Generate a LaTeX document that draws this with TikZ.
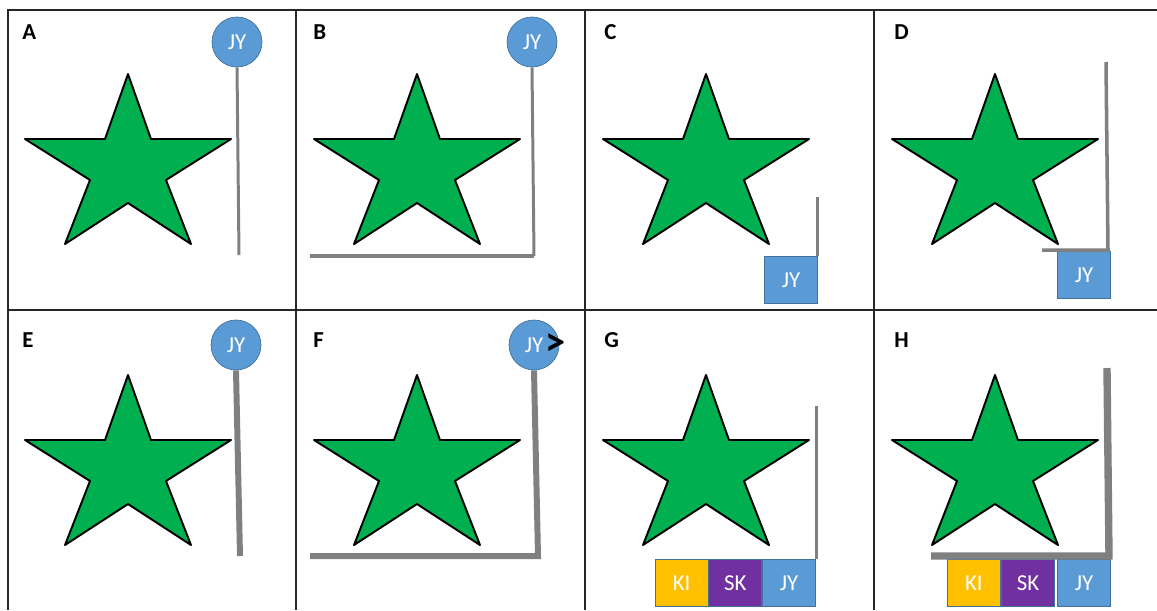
\documentclass[tikz,border=0pt]{standalone}
\usepackage{fontspec}
\setmainfont{Carlito}
\usepackage{xcolor}
\usetikzlibrary{positioning}

\definecolor{starGreen}{HTML}{00B050}
\definecolor{tagBlue}{HTML}{5B9BD5}
\definecolor{tagEdge}{HTML}{41719C}
\definecolor{tagGold}{HTML}{FFC000}
\definecolor{tagPurple}{HTML}{7030A0}
\definecolor{poleGray}{HTML}{808080}

\begin{document}
\begin{tikzpicture}[
  x=0.02cm, y=-0.02cm,
  grid/.style={draw=black!85, line width=0.9pt},
  panel/.style={font=\bfseries\fontsize{13}{15}\selectfont, anchor=base west, inner sep=0pt},
  pin/.style={circle, draw=tagEdge, line width=0.4pt, fill=tagBlue, text=white,
              font=\fontsize{13}{15}\selectfont, inner sep=0pt, minimum size=1cm},
  tag/.style={draw=tagEdge, line width=0.4pt, fill=tagBlue, text=white,
              font=\fontsize{13}{15}\selectfont, inner sep=0pt,
              minimum width=1.07cm, minimum height=0.93cm},
  pole/.style={draw=poleGray, line width=1.7pt, line join=miter},
  arrowmark/.style={font=\bfseries\fontsize{23}{23}\selectfont, inner sep=0pt},
  greenstar/.pic={
    \draw[fill=starGreen, line width=1.1pt, line join=round]
      (0,0) -- (23,65) -- (103,65) -- (38,106) -- (63,170) -- (0,129)
      -- (-63,170) -- (-38,106) -- (-103,65) -- (-23,65) -- cycle;}]

  \useasboundingbox (0,0) rectangle (1157,610);

  \draw[grid] (1157,10) -- (8,10) -- (8,610);
  \draw[grid] (8,310) -- (1157,310);
  \draw[grid] (296,10) -- (296,610);
  \draw[grid] (585,10) -- (585,610);
  \draw[grid] (874,10) -- (874,610);

  \node[panel] (labA) at (22,39) {A};
  \node[panel] (labB) at (313,39) {B};
  \node[panel] (labC) at (604,39) {C};
  \node[panel] (labD) at (894,39) {D};
  \node[panel] (labE) at (22,347) {E};
  \node[panel] (labF) at (313,347) {F};
  \node[panel] (labG) at (604,347) {G};
  \node[panel] (labH) at (894,347) {H};

  \pic (starA) at (128,74) {greenstar};
  \pic (starB) at (417,74) {greenstar};
  \pic (starC) at (706,74) {greenstar};
  \pic (starD) at (995,74) {greenstar};
  \pic (starE) at (128,375) {greenstar};
  \pic (starF) at (417,375) {greenstar};
  \pic (starG) at (706,375) {greenstar};
  \pic (starH) at (995,375) {greenstar};

  % A
  \node[pin] (pinA) at (237,42) {JY};
  \coordinate (endA) at (239,255);
  \draw[pole] (pinA.south) -- (endA);

  % B
  \node[pin] (pinB) at (532,42) {JY};
  \coordinate (cornerB) at (534,256);
  \coordinate (endB) at (310,256);
  \draw[pole] (pinB.south) -- (cornerB);
  \draw[pole, line width=2.2pt] (cornerB) -- (endB);

  % C
  \node[tag] (tagC) at (791,280) {JY};
  \coordinate (topC) at (817,197);
  \draw[pole] (topC) -- (topC |- tagC.north);

  % D
  \node[tag] (tagD) at (1084,275) {JY};
  \coordinate (topD) at (1106,62);
  \coordinate (cornerD) at (1108,250);
  \coordinate (endD) at (1042,250);
  \draw[pole, line width=2pt] (topD) -- (cornerD) -- (endD);

  % E
  \node[pin] (pinE) at (236,345) {JY};
  \coordinate (endE) at (240,556);
  \draw[pole, line width=3.4pt] (pinE.south) -- (endE);

  % F
  \node[pin] (pinF) at (534,345) {JY};
  \node[arrowmark] (markF) at (556,345) {>};
  \coordinate (cornerF) at (538,556);
  \coordinate (endF) at (310,556);
  \draw[pole, line width=3.4pt] (pinF.south) -- (cornerF) -- (endF);

  % G
  \node[tag, minimum width=1.06cm] (jyG) at (789,583) {JY};
  \node[tag, fill=tagPurple, minimum width=1.06cm, left=0pt of jyG] (skG) {SK};
  \node[tag, fill=tagGold, minimum width=1.06cm, left=0pt of skG] (kiG) {KI};
  \coordinate (topG) at (816,406);
  \draw[pole] (topG) -- (topG |- jyG.north);

  % H
  \node[tag] (jyH) at (1084,583) {JY};
  \node[tag, fill=tagPurple, left=1pt of jyH] (skH) {SK};
  \node[tag, fill=tagGold, left=0pt of skH] (kiH) {KI};
  \coordinate (topH) at (1107,368);
  \coordinate (cornerH) at (1109,556);
  \coordinate (endH) at (931,556);
  \draw[pole, line width=4.2pt] (topH) -- (cornerH) -- (endH);
\end{tikzpicture}
\end{document}
